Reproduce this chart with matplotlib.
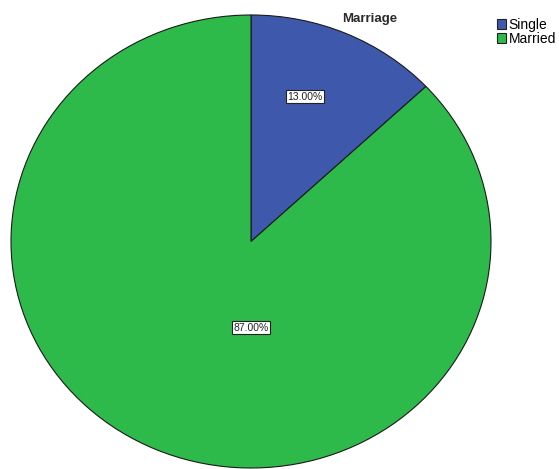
import matplotlib.pyplot as plt
from matplotlib.patches import Patch

plt.rcParams['font.family'] = ['Liberation Sans', 'DejaVu Sans']

# marital status shares (%)
categories = ['Single', 'Married']
shares     = [13.0, 87.0]
colors     = ['#3e58ac', '#2eba4a']

# where each percentage box sits, in pie units
label_pos = [(0.225, 0.64), (0.0, -0.38)]

fig = plt.figure(figsize=(5.59, 4.69), dpi=100, facecolor='white')

# pie drawn slightly wider than tall, filling most of the canvas
ax = fig.add_axes([11/559, 1/469, 480/559, 453/469])

wedges, texts, autotexts = ax.pie(
    shares, colors=colors, startangle=90, counterclock=False,
    radius=1, frame=True,
    autopct=lambda p: '{:.2f}%'.format(p),
    wedgeprops=dict(edgecolor='#1a1a1a', linewidth=0.8),
    textprops=dict(fontsize=7.5, color='#222222'))
ax.set_xlim(-1, 1)
ax.set_ylim(-1, 1)
ax.set_aspect('auto')
ax.axis('off')

for t, pos in zip(autotexts, label_pos):
    t.set_position(pos)
    t.set_bbox(dict(facecolor='white', edgecolor='#222222', linewidth=0.8, pad=1.2))

fig.text(370/559, 1 - 19/469, 'Marriage', ha='center', va='center',
         fontsize=9.5, fontweight='bold', color='#2a2a2a')

handles = [Patch(facecolor=c, edgecolor='#222222', linewidth=0.8) for c in colors]
fig.legend(handles, categories, loc='upper left', bbox_to_anchor=(487/559, 1 - 8/469),
           frameon=False, fontsize=10, handlelength=0.7, handleheight=0.7,
           handletextpad=0.15, labelspacing=0.0, borderpad=0.2)

fig.savefig('out.png', dpi=100, facecolor='white')
